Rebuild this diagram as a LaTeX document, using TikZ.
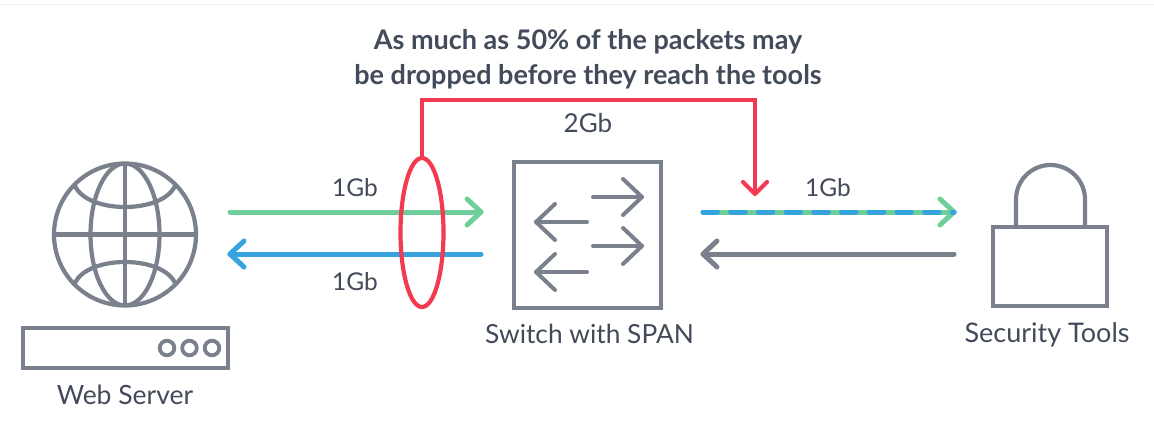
\documentclass[tikz,border=0pt]{standalone}
\usepackage{fontspec}
\setmainfont{Lato}
\usetikzlibrary{calc,shapes.geometric}
\definecolor{icongrey}{HTML}{7A818C}
\definecolor{linkgreen}{HTML}{6FCF9B}
\definecolor{linkblue}{HTML}{35A4DE}
\definecolor{alertred}{HTML}{F23A50}
\definecolor{labelink}{HTML}{434B5A}
\definecolor{hairline}{HTML}{F1F2F3}
\tikzset{
  icon/.style={draw=icongrey,line width=4.2pt,line join=miter},
  iconfine/.style={draw=icongrey,line width=4pt,line cap=round,line join=round},
  link/.style={line width=5pt,line cap=round,line join=round},
  caption/.style={text=labelink,font=\fontsize{#1}{30}\selectfont,inner sep=0pt,anchor=base},
  caption/.default=26.5,
  callout/.style={text=labelink,font=\fontsize{27}{35}\bfseries\selectfont,inner sep=0pt,align=center},
  boxnode/.style={draw=icongrey,line width=4.2pt,inner sep=0pt,minimum width=#1},
}
\begin{document}
\begin{tikzpicture}[x=1pt,y=-1pt]
\useasboundingbox (0,0) rectangle (1154,436);
\fill[white] (0,0) rectangle (1154,436);
\draw[hairline,line width=1pt] (0,5) -- (1154,5);

% Globe
\node[circle,icon,inner sep=0pt,minimum size=142pt] (globe) at (125,234.5) {};
\begin{scope}
  \clip (globe.center) circle (71pt);
  \draw[icongrey,line width=4.2pt] (125,234.5) ellipse (34.5pt and 71pt);
  \draw[icongrey,line width=4.2pt] (globe.north) -- (globe.south);
  \draw[icongrey,line width=4.2pt] (globe.west) -- (globe.east);
  \draw[icongrey,line width=4.2pt] (75,186) .. controls (88,214) and (162,214) .. (175,186);
  \draw[icongrey,line width=4.2pt] (75,283) .. controls (88,255) and (162,255) .. (175,283);
\end{scope}

% Server chassis with its three lamps
\node[boxnode=205pt,minimum height=40pt] (server) at (125.5,348) {};
\foreach \lx in {167,189.5,212}
  \draw[icon,line width=3.8pt] (\lx,348) circle (7.3pt);
\node[caption] (serverlabel) at (125,404) {Web Server};

% Switch with its four internal arrows
\node[boxnode=147pt,minimum height=146pt] (switch) at (587.5,235) {};
\foreach \ay in {197,246}{
  \draw[iconfine] (593,\ay) -- (642,\ay);
  \draw[iconfine] (623,\ay-18) -- (642,\ay) -- (623,\ay+18);
}
\foreach \ay in {222,272}{
  \draw[iconfine] (587,\ay) -- (536,\ay);
  \draw[iconfine] (555,\ay-18) -- (536,\ay) -- (555,\ay+18);
}
\node[caption=26.3] (switchlabel) at (589.5,343) {Switch with SPAN};

% Padlock
\node[boxnode=114pt,minimum height=79pt] (lockbody) at (1050,266.5) {};
\draw[icon] (1016,227) -- (1016,199.5) arc[start angle=180,end angle=0,radius=34.5pt] -- (1085,227);
\node[caption=27] (locklabel) at (1047,342) {Security Tools};

% Anchor points of the links
\coordinate (srvOut) at (230,212);
\coordinate (swIn) at (481,212);
\coordinate (swOut) at (481,254);
\coordinate (srvIn) at (230,254);
\coordinate (spanOut) at (703,212);
\coordinate (toolIn) at (954,212);
\coordinate (toolOut) at (954,254);
\coordinate (spanIn) at (703,254);
\coordinate (spanDrop) at (755,194);

% Links between server and switch
\draw[link,linkgreen] (srvOut) -- (swIn);
\draw[link,linkgreen] ($(swIn)+(-14,-13)$) -- (swIn) -- ($(swIn)+(-14,13)$);
\draw[link,linkblue] (swOut) -- (srvIn);
\draw[link,linkblue] ($(srvIn)+(14,-13)$) -- (srvIn) -- ($(srvIn)+(14,13)$);

% Links between switch and tools; the mirrored copy runs blue dashes over green
\draw[link,linkgreen] (spanOut) -- (toolIn);
\draw[link,linkgreen] ($(toolIn)+(-14,-13)$) -- (toolIn) -- ($(toolIn)+(-14,13)$);
\draw[line width=5pt,linkblue,line cap=round,dash pattern=on 14.5pt off 13.2pt] (spanOut) -- (toolIn);
\draw[link,icongrey] (toolOut) -- (spanIn);
\draw[link,icongrey] ($(spanIn)+(14,-13)$) -- (spanIn) -- ($(spanIn)+(14,13)$);

% Red tap ring and the oversubscribed mirror path
\node[ellipse,draw=alertred,line width=4.2pt,inner sep=0pt,minimum width=43pt,minimum height=149pt] (tap) at (422,232.5) {};
\draw[alertred,line width=4.2pt,line join=miter] (tap.north) |- (755,100) -- (spanDrop);
\draw[alertred,line width=4.2pt,line cap=round,line join=round] ($(spanDrop)+(-12,-12)$) -- (spanDrop) -- ($(spanDrop)+(12,-12)$);

% Rate labels
\node[caption=24.5] (rateA) at (355,196) {1Gb};
\node[caption=24.5] (rateB) at (355,290) {1Gb};
\node[caption=26] (rateC) at (588,132) {2Gb};
\node[caption=24.5] (rateD) at (828,196) {1Gb};

% Callout
\node[callout] (note) at (588,59) {As much as 50\% of the packets may\\be dropped before they reach the tools};
\end{tikzpicture}
\end{document}
